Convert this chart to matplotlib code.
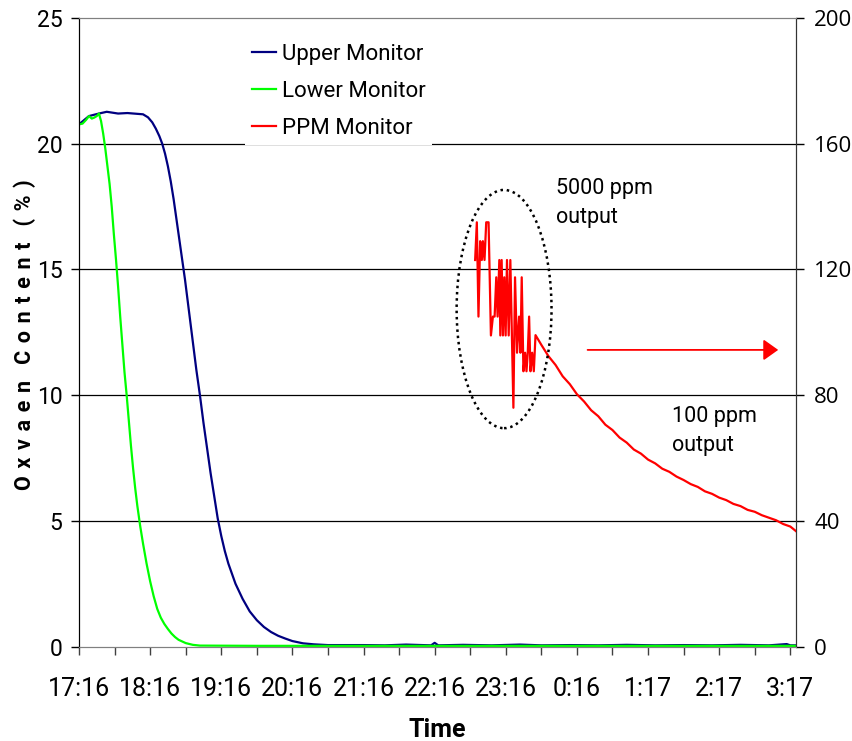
import matplotlib
matplotlib.use("Agg")
import matplotlib.pyplot as plt
from matplotlib import font_manager
from matplotlib.patches import Ellipse

# Fonts: a narrow face like the original, if installed

names = {f.name for f in font_manager.fontManager.ttflist}
narrow = 'Liberation Sans Narrow' if 'Liberation Sans Narrow' in names else 'Roboto'

# Data (hours after 17:16)

upper_t = [0.0, 0.14, 0.28, 0.39, 0.55, 0.68, 0.9, 0.97, 1.03, 1.08, 1.13, 1.17, 1.21,
           1.25, 1.29, 1.33, 1.37, 1.41, 1.45, 1.49, 1.53, 1.57, 1.61, 1.65, 1.70, 1.75,
           1.80, 1.85, 1.90, 1.95, 2.0, 2.05, 2.1, 2.2, 2.3, 2.4, 2.5, 2.6, 2.7, 2.8,
           2.9, 3.0, 3.15, 3.3, 3.5, 4.0, 4.3, 4.6, 4.95, 5.0, 5.05, 5.4, 5.8, 6.2,
           6.5, 6.9, 7.3, 7.7, 8.1, 8.5, 8.9, 9.3, 9.7, 9.95, 10.0, 10.08]
upper_o2 = [20.77, 21.1, 21.2, 21.27, 21.2, 21.22, 21.17, 21.05, 20.85, 20.6, 20.3, 20.0, 19.6,
            19.1, 18.5, 17.8, 17.0, 16.2, 15.4, 14.6, 13.7, 12.8, 11.9, 11.0, 10.0, 8.9,
            7.9, 6.9, 6.0, 5.1, 4.4, 3.8, 3.3, 2.5, 1.9, 1.4, 1.05, 0.78, 0.58, 0.43,
            0.32, 0.22, 0.13, 0.09, 0.06, 0.06, 0.05, 0.08, 0.05, 0.15, 0.05, 0.07, 0.05, 0.08,
            0.05, 0.06, 0.05, 0.07, 0.05, 0.06, 0.05, 0.07, 0.05, 0.1, 0.05, 0.05]

lower_t = [0.0, 0.05, 0.1, 0.14, 0.18, 0.215, 0.25, 0.28, 0.31, 0.34, 0.37, 0.40, 0.43,
           0.46, 0.49, 0.52, 0.55, 0.58, 0.61, 0.64, 0.67, 0.70, 0.73, 0.76, 0.79, 0.82,
           0.86, 0.90, 0.95, 1.0, 1.05, 1.1, 1.15, 1.2, 1.25, 1.3, 1.35, 1.4, 1.5, 1.6,
           1.7, 2.5, 4.0, 6.0, 8.0, 10.08]
lower_o2 = [20.77, 20.8, 20.95, 21.1, 21.0, 21.04, 21.1, 21.2, 20.9, 20.4, 19.8, 19.1, 18.4,
            17.5, 16.4, 15.4, 14.3, 13.1, 12.0, 10.9, 10.0, 9.0, 8.0, 7.1, 6.3, 5.6,
            4.8, 4.1, 3.3, 2.6, 2.0, 1.5, 1.15, 0.9, 0.7, 0.52, 0.38, 0.27, 0.14, 0.07,
            0.04, 0.03, 0.03, 0.03, 0.03, 0.03]

ppm_t = [5.569, 5.593, 5.616, 5.640, 5.663, 5.678, 5.701, 5.725, 5.758, 5.791, 5.819, 5.843,
         5.866, 5.885, 5.909, 5.923, 5.942, 5.960, 5.979, 5.998, 6.017, 6.041, 6.064, 6.107,
         6.130, 6.158, 6.187, 6.206, 6.224, 6.248, 6.272, 6.291, 6.309, 6.328, 6.347, 6.371,
         6.394, 6.418, 6.5, 6.6, 6.7, 6.8, 6.9, 7.0, 7.1, 7.2, 7.3, 7.4, 7.5, 7.6,
         7.7, 7.8, 7.9, 8.0, 8.1, 8.2, 8.3, 8.4, 8.5, 8.6, 8.7, 8.8, 8.9, 9.0,
         9.1, 9.2, 9.3, 9.4, 9.5, 9.6, 9.7, 9.8, 9.9, 10.0, 10.087]
ppm_val = [123, 135, 105, 129, 123, 129, 123, 135, 135, 99, 105, 105,
           117.5, 105, 123, 99, 123, 99, 117.5, 99, 123, 99, 123, 76,
           117.5, 93.5, 105, 93.5, 117.5, 87.6, 93.5, 87.6, 93.5, 105, 87.6, 93.5,
           87.6, 99.1, 96.0, 92.4, 89.6, 86.0, 83.5, 80.3, 78.0, 75.2, 73.3, 70.6, 68.9, 66.5,
           64.9, 62.7, 61.4, 59.5, 58.3, 56.6, 55.6, 54.1, 53.0, 51.7, 50.8, 49.4, 48.6, 47.4,
           46.6, 45.4, 44.7, 43.5, 42.9, 41.8, 41.0, 40.2, 39.0, 38.2, 36.6]

tick_labels = ['17:16', '18:16', '19:16', '20:16', '21:16', '22:16', '23:16',
               '0:16', '1:17', '2:17', '3:17']

ylabel_words = ['Oxvaen', 'Content', '(%)']

# Plotting

fig = plt.figure(figsize=(8.52, 7.41), dpi=100)
ax = fig.add_axes([79/852, 1 - 646.6/741, 717/852, 628.6/741])
ax2 = ax.twinx()

ax.plot(upper_t, upper_o2, color='#000080', lw=1.6, label='Upper Monitor')
ax.plot(lower_t, lower_o2, color='#00FF00', lw=1.6, label='Lower Monitor')
ax2.plot(ppm_t, ppm_val, color='#FF0000', lw=1.6, label='PPM Monitor')

ax.set_xlim(0, 10.08)
ax.set_ylim(0, 25)
ax2.set_ylim(0, 200)

ax.set_yticks(range(0, 26, 5))
ax2.set_yticks(range(0, 201, 40))
ax.set_xticks(range(0, 11))
ax.set_xticklabels(tick_labels)
ax.set_xticks([i + 0.5 for i in range(10)], minor=True)

for y in [5, 10, 15, 20]:
    ax.axhline(y, color='black', lw=0.9, zorder=0)

for lab in ax.get_xticklabels():
    lab.set_fontfamily(narrow)
    lab.set_fontsize(18)
for lab in ax.get_yticklabels():
    lab.set_fontfamily(narrow)
    lab.set_fontsize(16.5)
for lab in ax2.get_yticklabels():
    lab.set_fontfamily('Open Sans')
    lab.set_fontsize(16)

ax.tick_params(axis='x', which='both', direction='out', length=6, width=1, color='#404040', pad=16)
ax.tick_params(axis='y', direction='out', length=6, width=1, pad=6)
ax2.tick_params(axis='y', direction='out', length=6, width=1, pad=7)

for a in (ax, ax2):
    a.spines['top'].set_color('#808080')
    a.spines['bottom'].set_color('#808080')
    a.spines['left'].set_color('black')
    a.spines['right'].set_color('#333333')

# Annotations

ell = Ellipse((5.976, 107.4), 1.334, 75.8, fill=False, ls=(0, (1, 1.5)), lw=1.8,
              edgecolor='black', zorder=5)
ax2.add_patch(ell)
ax2.annotate('', xy=(9.83, 94.4), xytext=(7.15, 94.4),
             arrowprops=dict(arrowstyle='-|>,head_length=0.45,head_width=0.32',
                             mutation_scale=20, color='#FF0000', lw=1.3,
                             shrinkA=0, shrinkB=0))
ax2.text(6.70, 149, '5000 ppm\noutput', family=narrow, fontsize=15.5, va='top', ha='left',
         linespacing=1.5)
ax2.text(8.34, 76.5, '100 ppm\noutput', family=narrow, fontsize=15.5, va='top', ha='left',
         linespacing=1.5)

h1, l1 = ax.get_legend_handles_labels()
h2, l2 = ax2.get_legend_handles_labels()
leg = ax2.legend(h1 + h2, l1 + l2, loc='upper left', bbox_to_anchor=(245/852, 1 - 37/741),
                 bbox_transform=fig.transFigure, prop={'family': narrow, 'size': 16},
                 frameon=True, facecolor='white', edgecolor='none', framealpha=1,
                 fancybox=False, borderpad=0.3, borderaxespad=0, handlelength=1.1,
                 handletextpad=0.25, labelspacing=0.72)

ylabel = '   '.join(' \u200a'.join(w) for w in ylabel_words)
fig.text(25/852, 1 - 335/741, ylabel, rotation=90, ha='center', va='center',
         family=[narrow, 'DejaVu Sans'], fontsize=15.5, fontweight='bold')
fig.text(437/852, 1 - 730/741, 'Time', ha='center', va='center', family=narrow,
         fontsize=18, fontweight='bold')

fig.savefig('out.png', dpi=100)
